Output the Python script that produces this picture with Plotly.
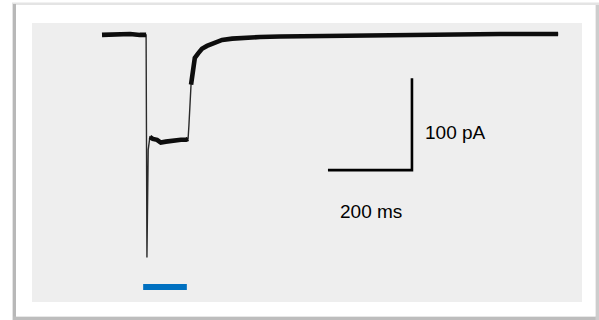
import plotly.graph_objects as go

# ---- data (time in ms, current in pA) ----
time_ms = [0, 19, 43, 67, 90, 105, 107, 110, 114, 121, 131, 140, 152, 164, 176, 188, 200, 205,
           207, 210, 212, 217, 221, 229, 238, 250, 264, 286, 310, 340, 376, 424, 495, 590,
           710, 829, 948, 1086]
current_pA = [-1, -0.5, -1, 0, -1, -1, -243, -126, -112, -114, -115, -118, -117, -116, -116, -115,
              -115, -114, -99, -72, -55, -37, -26, -21, -16, -13, -10, -6.5, -5, -4, -3.3, -2.7,
              -2.2, -1.6, -1.1, -0.5, 0, 0]

# light stimulus (blue bar)
stim_ms = [98, 202]
stim_level_pA = -275

# scale bars
scale_t_ms = 200
scale_i_pA = 100
scale_origin_t = 538
scale_origin_i = -148
scale_labels = ["100 pA", "200 ms"]

W, H = 599, 320
px_per_ms = 0.42
px_per_pA = 0.92
x0_px, y0_px = 102, 34
xmin = -x0_px / px_per_ms
xmax = xmin + W / px_per_ms
ymax = y0_px / px_per_pA
ymin = ymax - H / px_per_pA

fig = go.Figure()

# thin line for whole trace (fast transients)
fig.add_trace(go.Scatter(x=time_ms, y=current_pA, mode="lines",
                         line=dict(color="#2a2a2a", width=1.4), hoverinfo="skip"))
# thicker noisy segments
segments = [(0, 6), (8, 18), (20, len(time_ms))]
for a, b in segments:
    fig.add_trace(go.Scatter(x=time_ms[a:b], y=current_pA[a:b], mode="lines",
                             line=dict(color="#0d0d0d", width=4.6), hoverinfo="skip"))

# stimulus bar
fig.add_trace(go.Scatter(x=stim_ms, y=[stim_level_pA, stim_level_pA], mode="lines",
                         line=dict(color="#0070c0", width=6), hoverinfo="skip"))

# scale bars
fig.add_trace(go.Scatter(
    x=[scale_origin_t, scale_origin_t + scale_t_ms, scale_origin_t + scale_t_ms],
    y=[scale_origin_i, scale_origin_i, scale_origin_i + scale_i_pA],
    mode="lines", line=dict(color="#000000", width=2.6), hoverinfo="skip"))


def px(x):
    return x / W


def py(y):
    return 1 - y / H


shapes = [
    # outer shadow / frame
    dict(type="rect", xref="paper", yref="paper", x0=px(12), x1=px(599), y0=py(320), y1=py(2.5),
         fillcolor="#e4e4e4", line=dict(width=0), layer="below"),
    dict(type="rect", xref="paper", yref="paper", x0=px(13), x1=px(16), y0=py(320), y1=py(4),
         fillcolor="#b8b8b8", line=dict(width=0), layer="below"),
    dict(type="rect", xref="paper", yref="paper", x0=px(13), x1=px(599), y0=py(320), y1=py(316.5),
         fillcolor="#bdbdbd", line=dict(width=0), layer="below"),
    dict(type="rect", xref="paper", yref="paper", x0=px(595.5), x1=px(599), y0=py(320), y1=py(5),
         fillcolor="#cdcdcd", line=dict(width=0), layer="below"),
    dict(type="rect", xref="paper", yref="paper", x0=px(16), x1=px(595.5), y0=py(316.5), y1=py(5),
         fillcolor="#ffffff", line=dict(width=0), layer="below"),
    # inner gray panel
    dict(type="rect", xref="paper", yref="paper", x0=px(32), x1=px(582), y0=py(302), y1=py(23),
         fillcolor="#eeeeee", line=dict(width=0), layer="below"),
]

annotations = [
    dict(text=scale_labels[0], xref="paper", yref="paper", x=px(423), y=py(132),
         xanchor="left", yanchor="middle", showarrow=False,
         font=dict(family="Liberation Sans, Arial", size=19, color="#000000")),
    dict(text=scale_labels[1], xref="paper", yref="paper", x=px(371), y=py(211),
         xanchor="center", yanchor="middle", showarrow=False,
         font=dict(family="Liberation Sans, Arial", size=19, color="#000000")),
]

fig.update_layout(
    width=W, height=H,
    margin=dict(l=0, r=0, t=0, b=0),
    paper_bgcolor="#ffffff",
    plot_bgcolor="rgba(0,0,0,0)",
    showlegend=False,
    shapes=shapes,
    annotations=annotations,
    xaxis=dict(range=[xmin, xmax], visible=False, fixedrange=True),
    yaxis=dict(range=[ymin, ymax], visible=False, fixedrange=True),
)

fig.write_html("out.html", config={"displayModeBar": False},
               post_script="document.body.style.margin='0';document.body.style.overflow='hidden';")
